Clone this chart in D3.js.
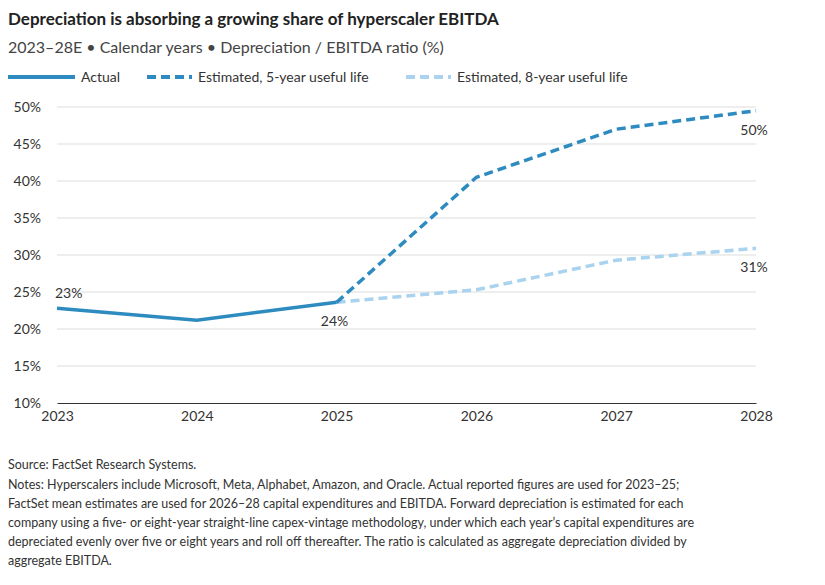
<!DOCTYPE html>
<html><head><meta charset="utf-8">
<script src="https://cdn.jsdelivr.net/npm/d3@7"></script>
<style>body{margin:0;background:#fff;font-family:Lato,"Noto Sans",sans-serif}</style>
</head><body><svg id="c" width="825" height="585"></svg>
<script>
const years=[2023,2024,2025,2026,2027,2028];
const actual=[22.8,21.2,23.6];
const est5=[23.6,40.5,47.0,49.5];
const est8=[23.6,25.3,29.3,30.9];
const yTicks=[10,15,20,25,30,35,40,45,50];
const notes=["Source: FactSet Research Systems.",
"Notes: Hyperscalers include Microsoft, Meta, Alphabet, Amazon, and Oracle. Actual reported figures are used for 2023–25;",
"FactSet mean estimates are used for 2026–28 capital expenditures and EBITDA. Forward depreciation is estimated for each",
"company using a five- or eight-year straight-line capex-vintage methodology, under which each year’s capital expenditures are",
"depreciated evenly over five or eight years and roll off thereafter. The ratio is calculated as aggregate depreciation divided by",
"aggregate EBITDA."];
const svg=d3.select("#c");
const x=d3.scaleLinear().domain([2023,2028]).range([57,756]);
const y=d3.scaleLinear().domain([10,50]).range([403,107]);
svg.append("text").attr("x",8).attr("y",25).attr("font-size",17).attr("font-weight","bold").attr("fill","#222").text("Depreciation is absorbing a growing share of hyperscaler EBITDA");
svg.append("text").attr("x",8).attr("y",53).attr("font-size",16).attr("fill","#444").text("2023–28E • Calendar years • Depreciation / EBITDA ratio (%)");
const leg=[["Actual","#2e8bc0",null,8,67],["Estimated, 5-year useful life","#2e8bc0","9,5",147,45],["Estimated, 8-year useful life","#a9d3ee","9,5",406,45]];
leg.forEach(l=>{svg.append("line").attr("x1",l[3]).attr("x2",l[3]+l[4]).attr("y1",77).attr("y2",77).attr("stroke",l[1]).attr("stroke-width",4).attr("stroke-dasharray",l[2]);
svg.append("text").attr("x",l[3]+l[4]+6).attr("y",82).attr("font-size",14).attr("fill","#333").text(l[0]);});
svg.append("g").selectAll("line").data(yTicks.slice(1)).join("line").attr("x1",57).attr("x2",756).attr("y1",d=>y(d)).attr("y2",d=>y(d)).attr("stroke","#ddd");
svg.append("g").selectAll("text").data(yTicks).join("text").attr("x",41).attr("y",d=>y(d)+5).attr("text-anchor","end").attr("font-size",14).attr("fill","#333").text(d=>d+"%");
const xa=svg.append("g").attr("transform","translate(0,403)").call(d3.axisBottom(x).tickValues(years).tickFormat(d3.format("d")).tickSize(0).tickPadding(8));
xa.select(".domain").attr("stroke","#333");
xa.selectAll("text").attr("font-size",14).attr("fill","#333").attr("font-family","Lato,'Noto Sans',sans-serif");
const ln=d3.line().x(d=>x(d[0])).y(d=>y(d[1]));
svg.append("path").datum(years.slice(2).map((yr,i)=>[yr,est8[i]])).attr("d",ln).attr("fill","none").attr("stroke","#a9d3ee").attr("stroke-width",3.5).attr("stroke-dasharray","9,5");
svg.append("path").datum(years.slice(2).map((yr,i)=>[yr,est5[i]])).attr("d",ln).attr("fill","none").attr("stroke","#2e8bc0").attr("stroke-width",3.5).attr("stroke-dasharray","9,5");
svg.append("path").datum(years.slice(0,3).map((yr,i)=>[yr,actual[i]])).attr("d",ln).attr("fill","none").attr("stroke","#2e8bc0").attr("stroke-width",3.5);
const lab=[[2023,actual[0],"23%",-2,-10,"start"],[2025,actual[2],"24%",-2,24,"middle"],[2028,est5[3],"50%",-2,24,"middle"],[2028,est8[3],"31%",-2,24,"middle"]];
lab.forEach(l=>svg.append("text").attr("x",x(l[0])+l[3]).attr("y",y(l[1])+l[4]).attr("text-anchor",l[5]).attr("font-size",14).attr("fill","#333").text(l[2]));
notes.forEach((t,i)=>svg.append("text").attr("x",8).attr("y",469+(i===0?0:i*19+1)).attr("font-size",12.5).attr("fill","#333").text(t));
</script></body></html>
